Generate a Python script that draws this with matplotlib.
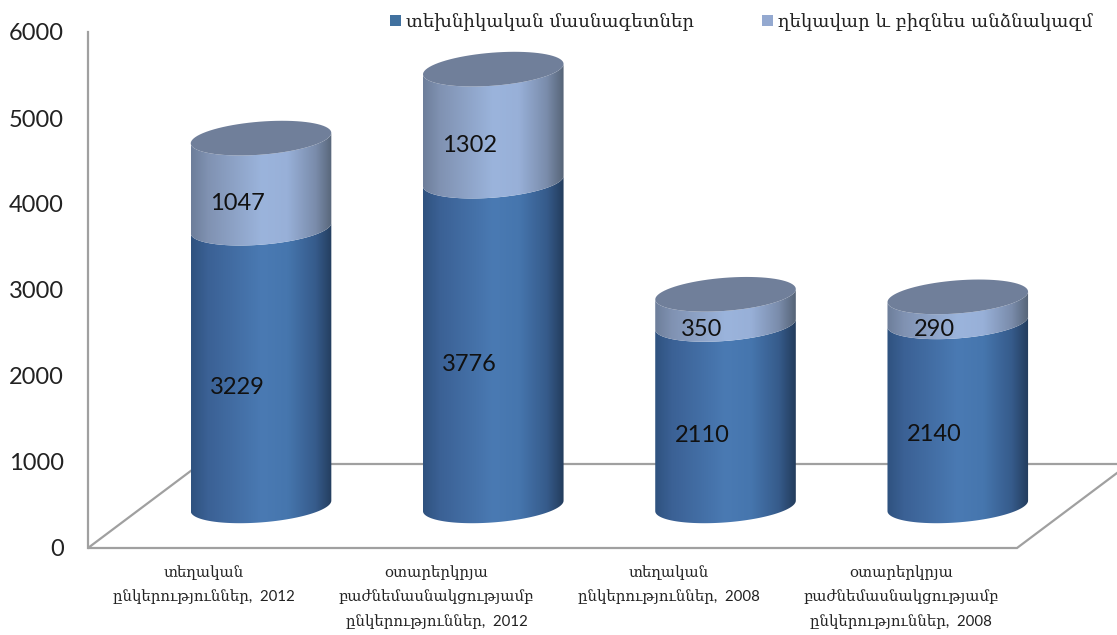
import matplotlib
matplotlib.use("Agg")
import matplotlib.pyplot as plt
import numpy as np
from matplotlib.colors import LinearSegmentedColormap
from matplotlib.patches import Patch, Polygon

categories = [
    "տեղական\nընկերություններ,  2012",
    "օտարերկրյա\nբաժնեմասնակցությամբ\nընկերություններ,  2012",
    "տեղական\nընկերություններ,  2008",
    "օտարերկրյա\nբաժնեմասնակցությամբ\nընկերություններ,  2008",
]
technical = [3229, 3776, 2110, 2140]
management = [1047, 1302, 350, 290]
series_names = ["տեխնիկական մասնագետներ", "ղեկավար և բիզնես անձնակազմ"]
yticks = [0, 1000, 2000, 3000, 4000, 5000, 6000]

ARM = "DejaVu Serif"
NUM = "Lato"

# size of one pixel in data units
px_x = 4 / 929
px_y = 6000 / 516

# depth of the fake 3d floor, in data units
depth_x = 112 * px_x
depth_y = 84 * px_y
bar_dx = 0.245
bar_dy = 490

# cylinder ellipse, in pixels
semi_major = 70.5
semi_minor = 16.5
theta = np.radians(4.5)
t0 = np.arctan2(-semi_minor * np.sin(theta), semi_major * np.cos(theta))

blue_cmap = LinearSegmentedColormap.from_list(
    "blue", [(0, "#2f527f"), (0.12, "#3b6195"), (0.5, "#4a7ab3"), (0.68, "#4676ae"), (0.88, "#365b8b"), (1, "#233c5c")])
light_cmap = LinearSegmentedColormap.from_list(
    "light", [(0, "#6d7e9a"), (0.12, "#8092b2"), (0.5, "#9bb4dc"), (0.68, "#98b0d8"), (0.88, "#7a8cab"), (1, "#566477")])


def arc(cx, cy, start, end):
    t = np.linspace(start, end, 80) + t0
    dx = semi_major * np.cos(t) * np.cos(theta) - semi_minor * np.sin(t) * np.sin(theta)
    dy = semi_major * np.cos(t) * np.sin(theta) + semi_minor * np.sin(t) * np.cos(theta)
    return np.column_stack([cx + dx * px_x, cy + dy * px_y])


def draw_segment(ax, cx, bottom, top, cmap):
    outline = np.vstack([arc(cx, bottom, np.pi, 2 * np.pi), arc(cx, top, 0, -np.pi)])
    clip = Polygon(outline, closed=True, transform=ax.transData, facecolor="none", edgecolor="none")
    ax.add_patch(clip)
    half = semi_major * px_x
    gradient = np.linspace(0, 1, 256).reshape(1, -1)
    im = ax.imshow(gradient, cmap=cmap, aspect="auto", zorder=3,
                   extent=[cx - half, cx + half, bottom - 400, top + 400])
    im.set_clip_box(fig.bbox)
    im.set_clip_path(clip)


fig, ax = plt.subplots(figsize=(11.17, 6.35), dpi=100)
fig.subplots_adjust(left=88 / 1117, right=1017 / 1117, bottom=1 - 548 / 635, top=1 - 32 / 635)

x = np.arange(len(categories))

# floor
floor = Polygon([(-0.5, 0), (3.5, 0), (3.5 + depth_x, depth_y), (-0.5 + depth_x, depth_y)],
                closed=True, facecolor="white", edgecolor="#a0a0a0", linewidth=1.6,
                clip_on=False, zorder=1)
ax.add_patch(floor)

for i in x:
    cx = i + bar_dx
    b0 = bar_dy
    b1 = b0 + technical[i]
    b2 = b1 + management[i]
    draw_segment(ax, cx, b0, b1, blue_cmap)
    draw_segment(ax, cx, b1, b2, light_cmap)
    cap = Polygon(arc(cx, b2, 0, 2 * np.pi), closed=True, facecolor="#707f9a",
                  edgecolor="none", zorder=4, clip_on=False)
    ax.add_patch(cap)
    ax.text(i + 0.143, technical[i] / 2 + 250, str(technical[i]), ha="center", va="center",
            fontsize=17, family=NUM, color="#111111", zorder=5)
    ax.text(i + 0.143, technical[i] + management[i] / 2 + 255, str(management[i]), ha="center", va="center",
            fontsize=17, family=NUM, color="#111111", zorder=5)

ax.set_xlim(-0.5, 3.5)
ax.set_ylim(0, 6000)
ax.set_xticks(x)
ax.set_xticklabels(categories, family=[NUM, ARM], fontsize=10.8, color="#222222", linespacing=1.8)
ax.set_yticks(yticks)
ax.set_yticklabels([str(v) for v in yticks], family=NUM, fontsize=17, color="#222222")
ax.tick_params(axis="x", length=0, pad=12.5)
ax.tick_params(axis="y", length=0, pad=17.5)
for s in ["top", "right", "bottom"]:
    ax.spines[s].set_visible(False)
ax.spines["left"].set_color("#a0a0a0")
ax.spines["left"].set_linewidth(1.6)
ax.patch.set_visible(False)

handles = [Patch(facecolor="#41719f", edgecolor="none"), Patch(facecolor="#94a9d0", edgecolor="none")]
fig.legend(handles, series_names, ncol=2, frameon=False, loc="center left",
           bbox_to_anchor=(390 / 1117, 1 - 22 / 635), prop={"family": ARM, "size": 13.1},
           handlelength=0.6, handleheight=0.6, handletextpad=0.3, columnspacing=3.7,
           borderpad=0, borderaxespad=0, labelcolor="#222222")

fig.savefig("out.png", dpi=100)
